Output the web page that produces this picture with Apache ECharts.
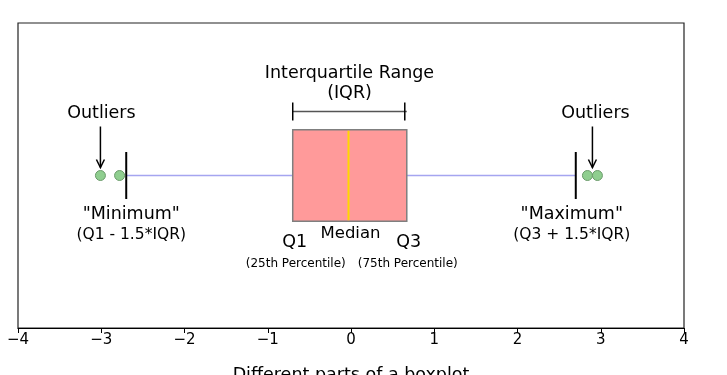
<!DOCTYPE html>
<html><head><meta charset="utf-8">
<script src="https://cdn.jsdelivr.net/npm/echarts@6/dist/echarts.min.js"></script>
<style>html,body{margin:0;padding:0;background:#fff}#c{width:727px;height:375px}</style>
</head><body><div id="c"></div>
<script>
// Data
const xTicks = [-4, -3, -2, -1, 0, 1, 2, 3, 4];
const boxStats = [-2.70, -0.70, -0.03, 0.67, 2.70]; // min, Q1, median, Q3, max
const outliers = [-3.01, -2.78, 2.84, 2.96];
const xLabel = 'Different parts of a boxplot';

const FONT = '"DejaVu Sans", sans-serif';
const chart = echarts.init(document.getElementById('c'));

function txt(x, y, t, size) {
  return { type: 'text', style: { x: x, y: y, text: t, fill: '#000', align: 'center', verticalAlign: 'middle', font: (size || 17.5) + 'px ' + FONT } };
}
function line(x1, y1, x2, y2, color, w) {
  return { type: 'line', shape: { x1: x1, y1: y1, x2: x2, y2: y2 }, style: { stroke: color, lineWidth: w } };
}
function arrow(x, y1, y2) {
  return [line(x, y1, x, y2, '#000', 1.5),
    { type: 'polyline', shape: { points: [[x - 4, y2 - 8], [x, y2], [x + 4, y2 - 8]] }, style: { stroke: '#000', lineWidth: 1.5, fill: null } }];
}

chart.setOption({
  animation: false,
  grid: { left: 18, right: 43, top: 23, bottom: 47, show: true, borderColor: '#222', borderWidth: 1.2,
    outerBoundsMode: 'none', containLabel: false },
  xAxis: {
    type: 'value', min: -4, max: 4, interval: 1,
    axisLine: { show: true, lineStyle: { color: '#000', width: 1 } },
    axisTick: { show: true, length: 5, lineStyle: { color: '#000' } },
    splitLine: { show: false },
    axisLabel: { color: '#000', fontFamily: FONT, fontSize: 15, margin: 5,
      formatter: v => (v < 0 ? '\u2212' + Math.abs(v) : String(v)) },
    name: xLabel, nameLocation: 'middle', nameGap: 38,
    nameTextStyle: { color: '#000', fontFamily: FONT, fontSize: 17.5, verticalAlign: 'top' }
  },
  yAxis: { type: 'value', min: 0, max: 1, show: false },
  series: [
    {
      type: 'custom',
      data: [boxStats],
      renderItem: function (params, api) {
        const mn = api.value(0), q1 = api.value(1), md = api.value(2), q3 = api.value(3), mx = api.value(4);
        const pMin = api.coord([mn, 0.5]), pQ1 = api.coord([q1, 0.5]), pMd = api.coord([md, 0.5]);
        const pQ3 = api.coord([q3, 0.5]), pMax = api.coord([mx, 0.5]);
        const yTop = api.coord([q1, 0.65])[1], yBot = api.coord([q1, 0.35])[1];
        const cTop = api.coord([mn, 0.577])[1], cBot = api.coord([mn, 0.423])[1];
        const cy = pQ1[1];
        const lo = api.coord([outliers[0], 0.5])[0];
        const hi = (api.coord([outliers[2], 0.5])[0] + api.coord([outliers[3], 0.5])[0]) / 2;
        const kids = [
          line(pMin[0], cy, pQ1[0], cy, '#a5a5f0', 1.5),
          line(pQ3[0], cy, pMax[0], cy, '#a5a5f0', 1.5),
          { type: 'rect', shape: { x: pQ1[0], y: yTop, width: pQ3[0] - pQ1[0], height: yBot - yTop },
            style: { fill: '#ff9a9a', stroke: '#7f7f7f', lineWidth: 1.5 } },
          line(pMd[0], yTop + 1, pMd[0], yBot - 1, '#ffd700', 2),
          line(pMin[0], cTop, pMin[0], cBot, '#000', 2),
          line(pMax[0], cTop, pMax[0], cBot, '#000', 2),
          // IQR bracket
          line(pQ1[0], cy - 64, pQ3[0], cy - 64, '#555', 1.5),
          line(pQ1[0], cy - 73, pQ1[0], cy - 55, '#000', 1.5),
          line(pQ3[0] - 2, cy - 73, pQ3[0] - 2, cy - 55, '#000', 1.5),
          txt(pMd[0] + 1, cy - 102, 'Interquartile Range'),
          txt(pMd[0] + 1, cy - 82, '(IQR)'),
          txt(pMd[0] + 2, cy + 58, 'Median', 16.5),
          txt(pQ1[0] + 2, cy + 67, 'Q1'),
          txt(pQ3[0] + 2, cy + 67, 'Q3'),
          txt(pQ1[0] + 3, cy + 88, '(25th Percentile)', 12),
          txt(pQ3[0] + 1, cy + 88, '(75th Percentile)', 12),
          txt(pMin[0] + 5, cy + 39, '"Minimum"'),
          txt(pMin[0] + 5, cy + 59, '(Q1 - 1.5*IQR)', 15.5),
          txt(pMax[0] - 4, cy + 39, '"Maximum"'),
          txt(pMax[0] - 4, cy + 59, '(Q3 + 1.5*IQR)', 15.5),
          txt(lo + 1, cy - 62, 'Outliers'),
          txt(hi + 3, cy - 62, 'Outliers')
        ].concat(arrow(lo, cy - 49, cy - 8)).concat(arrow(hi, cy - 49, cy - 8));
        return { type: 'group', children: kids };
      },
      z: 2
    },
    {
      type: 'scatter',
      data: outliers.map(v => [v, 0.5]),
      symbolSize: 10,
      itemStyle: { color: '#8fce8f', borderColor: '#6a9a6a', borderWidth: 1, opacity: 1 },
      z: 3
    }
  ]
});
</script></body></html>
